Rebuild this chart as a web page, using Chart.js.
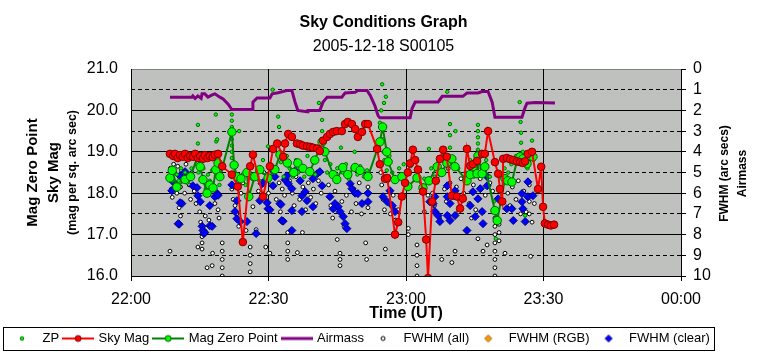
<!DOCTYPE html>
<html>
<head>
<meta charset="utf-8">
<script src="https://cdn.jsdelivr.net/npm/chart.js@4.4.1/dist/chart.umd.min.js"></script>
<style>
  html, body { margin: 0; background: #fff; }
  #wrap { width: 764px; height: 358px; position: relative; }
</style>
</head>
<body>
<div id="wrap"><canvas id="skyChart"></canvas></div>
<script>
// time axis is minutes after 22:00 UT
const timeLabels = ['22:00', '22:30', '23:00', '23:30', '00:00'];

// [minutes, mag]  (left axis)
const zpDots = [
  [8.6,18.55],[8.7,18.4],[9.0,18.3],[9.3,18.5],[9.6,18.2],[10.0,18.45],[10.4,18.3],[10.9,18.6],[11.3,18.35],[11.8,18.5],
  [12.3,18.25],[12.8,18.45],[13.2,18.6],[14.2,18.7],[14.6,19.65],[14.6,19.2],[14.7,18.5],[15.3,18.3],[15.8,18.6],[16.3,18.1],
  [16.8,18.45],[17.2,18.3],[17.7,18.55],[18.5,19.9],[18.6,19.25],[18.8,19.3],[19.0,18.5],[19.3,18.2],[19.6,18.55],
  [22.0,19.9],[22.0,19.75],[22.0,19.6],[22.0,19.45],[22.0,19.3],[22.0,19.15],[22.0,19.0],[22.0,18.85],[22.2,18.7],[22.5,18.5],
  [23.3,18.3],[23.6,19.5],[24.3,18.45],[25.0,18.2],[25.7,18.6],[26.4,18.35],[27.5,18.55],[28.0,18.3],[28.8,18.8],[29.5,18.45],
  [29.9,19.13],[30.4,18.7],[30.9,20.5],[31.3,18.5],[32.1,19.85],[32.3,19.6],[32.7,18.75],[33.3,18.4],[34.0,18.9],[34.6,18.6],
  [35.3,18.4],[36.0,18.8],[36.5,18.5],[37.2,18.65],[37.8,18.4],[38.5,18.9],[38.9,18.55],[39.7,18.75],[40.2,18.45],[41.0,20.18],
  [41.7,19.77],[41.7,19.5],[41.9,19.0],[42.3,18.8],[42.8,18.5],[43.5,18.7],[44.3,18.4],[45.0,18.6],[45.8,19.1],[46.2,18.5],
  [46.9,18.7],[47.5,18.35],[48.3,18.6],[48.8,19.0],[49.4,18.45],[50.0,18.65],[50.8,18.4],[51.5,18.55],[54.3,19.7],[54.6,20.0],
  [54.8,20.63],[55.2,20.18],[55.6,20.33],[55.0,19.3],[55.1,19.0],[55.3,18.8],[55.8,18.55],[56.4,18.9],[57.0,18.5],[58.5,18.6],
  [59.5,18.7],[60.3,18.5],[61.0,18.65],[62.0,18.4],[63.0,18.55],[64.0,18.35],[65.0,19.07],[65.5,18.6],[66.3,18.4],[67.0,18.8],
  [67.5,18.5],[68.2,18.9],[69.0,20.45],[69.6,19.67],[69.6,19.4],[69.6,19.1],[70.2,18.7],[70.8,19.5],[71.4,18.6],[75.7,19.65],
  [75.7,19.5],[75.7,19.35],[75.7,19.2],[75.7,19.05],[73.0,18.5],[74.0,18.8],[74.8,18.4],[76.5,18.6],[77.5,18.8],[78.3,18.4],
  [79.2,17.8],[79.6,16.9],[80.5,18.4],[81.5,18.6],[82.3,18.5],[83.0,18.7],[84.0,18.9],[84.8,20.2],[85.0,19.72],[85.1,19.46],
  [85.1,19.22],[85.5,19.0],[86.0,17.46],[86.5,18.6],[87.5,19.27],[87.8,18.8]
];

const skyMag = [
  [8.5,18.95],[9.2,18.9],[9.6,18.95],[10.2,18.85],[10.7,18.92],[11.3,18.88],[11.8,18.95],[12.4,18.85],[12.9,18.9],[13.5,18.88],
  [14.0,18.95],[14.6,18.85],[15.1,18.9],[15.7,18.83],[16.1,18.92],[16.7,18.85],[17.2,18.9],[17.8,18.87],[18.3,18.93],[19.0,18.95],
  [19.9,18.65],[22.0,18.45],[23.3,18.16],[24.4,16.82],[26.0,18.65],[26.6,18.93],[28.8,17.92],[30.3,18.65],[31.0,19.07],[31.9,19.2],
  [33.2,18.88],[33.6,19.2],[34.3,19.43],[35.1,19.36],[36.2,19.2],[36.9,19.18],[37.5,19.15],[38.4,19.13],[39.1,19.12],[39.7,19.1],
  [40.6,19.08],[41.2,19.02],[41.9,19.27],[42.8,19.36],[43.4,19.43],[44.1,19.48],[44.9,19.5],[46.0,19.5],[46.7,19.67],[47.3,19.72],
  [48.2,19.67],[48.9,19.55],[49.5,19.36],[50.4,19.48],[51.1,19.67],[51.7,19.67],[53.7,19.07],[54.3,18.7],[55.4,18.35],[55.9,18.37],
  [57.6,17.0],[58.3,17.3],[59.1,17.92],[59.8,18.25],[60.4,18.5],[60.9,18.72],[61.5,19.05],[62.0,18.8],[62.6,18.57],[63.7,18.04],
  [64.4,16.88],[64.8,15.95],[65.7,17.8],[66.5,18.3],[67.4,18.83],[68.1,19.05],[68.9,18.88],[70.0,17.94],[71.1,17.92],[71.8,17.63],
  [72.4,17.87],[73.3,19.07],[74.0,18.66],[74.6,18.7],[75.5,18.78],[76.6,18.95],[77.2,18.95],[77.9,19.5],[79.4,18.75],[80.1,18.47],
  [80.5,18.1],[81.0,17.8],[81.2,18.83],[82.0,18.85],[82.7,18.82],[83.4,18.8],[84.2,18.77],[84.9,18.75],[85.5,18.73],[86.0,18.77],
  [86.6,18.95],[87.5,19.0],[88.8,18.1],[89.5,18.64],[89.9,17.67],[90.3,17.27],[91.0,17.24],[91.6,17.22],[92.3,17.24]
];

const magZeroPoint = [
  [8.5,18.37],[9.0,18.55],[10.0,18.15],[11.8,18.33],[13.0,18.4],[14.5,18.88],[15.1,18.64],[15.7,18.33],[16.6,18.0],[17.2,18.2],
  [17.9,18.13],[18.5,18.57],[19.0,18.73],[19.4,18.4],[22.0,19.48],[22.5,18.68],[23.1,18.4],[24.0,18.35],[25.3,18.5],[25.7,17.92],
  [27.0,18.4],[28.1,18.57],[29.9,18.37],[31.4,18.57],[32.5,18.93],[34.1,18.73],[35.5,18.5],[36.4,18.73],[37.5,18.6],[39.0,18.52],
  [40.1,18.8],[41.7,19.24],[42.3,19.0],[44.1,18.45],[44.9,18.33],[46.2,18.62],[47.3,18.45],[48.9,18.62],[50.0,18.55],[51.7,18.4],
  [54.3,19.24],[54.9,19.6],[55.8,19.0],[56.1,18.76],[57.6,18.33],[59.1,18.4],[60.4,18.16],[62.4,18.37],[63.7,18.13],[65.0,18.3],
  [66.8,18.64],[67.8,18.5],[68.9,18.73],[70.0,18.83],[70.7,18.64],[73.3,18.3],[74.0,18.45],[74.6,18.64],[75.5,18.47],[75.7,18.9],
  [76.6,18.47],[77.2,18.64],[79.4,17.58],[79.9,17.34],[81.6,18.35],[82.2,18.3],[83.1,18.27],[84.2,18.78],[84.9,18.88],[85.5,18.83],
  [86.4,18.71],[87.7,18.88]
];

// [minutes, value]  (right axis)
const airmass = [
  [8.5,1.36],[13.3,1.36],[13.5,1.3],[14.0,1.42],[14.6,1.3],[15.3,1.42],[15.5,1.2],[16.1,1.2],[16.8,1.36],[17.7,1.25],
  [18.3,1.2],[19.4,1.36],[20.1,1.45],[21.2,1.7],[22.0,1.96],[26.4,1.96],[26.6,1.6],[27.5,1.4],[30.3,1.4],[30.8,1.2],
  [32.1,1.15],[34.0,1.04],[35.1,1.04],[35.8,1.6],[36.4,2.0],[38.4,2.06],[38.6,2.0],[41.2,2.0],[41.9,1.6],[42.8,1.36],
  [46.0,1.36],[46.7,1.16],[48.9,1.12],[49.5,1.04],[51.5,1.04],[52.2,1.28],[53.2,1.77],[53.9,2.25],[54.3,2.36],[60.9,2.36],
  [61.3,1.92],[62.0,1.6],[67.0,1.6],[67.9,1.32],[72.4,1.32],[73.3,1.16],[75.7,1.16],[76.6,1.09],[77.9,1.09],[78.8,1.6],
  [79.4,2.33],[85.3,2.33],[86.0,1.85],[86.4,1.65],[88.2,1.62],[92.5,1.64]
];

const fwhmAll = [
  [8.6,4.8],[8.7,5.3],[8.8,5.8],[9.0,6.2],[9.3,4.6],[9.5,5.0],[9.7,5.5],[10.0,6.0],[10.2,4.7],[10.5,5.2],
  [10.8,5.7],[11.0,4.9],[11.3,5.4],[11.7,6.0],[12.0,4.6],[12.3,5.1],[12.7,5.6],[13.0,6.3],[13.3,5.0],[8.5,8.8],
  [10.5,6.7],[10.8,7.1],[13.8,5.9],[14.2,6.5],[14.6,8.6],[15.0,6.9],[15.2,7.4],[15.5,8.1],[15.5,8.4],[15.5,8.7],
  [16.2,7.1],[16.6,9.6],[17.0,7.3],[17.7,9.5],[17.8,8.9],[18.3,6.5],[19.0,6.8],[19.2,7.2],[19.9,8.4],[19.9,8.8],
  [19.9,9.2],[19.9,9.6],[19.9,10.0],[22.0,5.2],[22.0,5.8],[22.3,6.3],[22.7,6.6],[23.1,7.0],[23.5,7.6],[24.0,6.0],
  [24.4,5.5],[25.1,7.8],[26.0,8.6],[26.0,9.0],[26.0,9.4],[26.0,9.8],[26.6,6.65],[27.3,7.76],[27.8,5.9],[28.5,6.2],
  [29.0,5.0],[29.4,8.6],[30.3,8.9],[30.0,6.0],[30.5,5.6],[31.2,5.1],[31.7,6.3],[32.3,5.5],[32.6,6.9],[33.0,5.8],
  [33.5,6.1],[34.2,7.9],[34.2,8.4],[34.2,8.8],[34.2,9.2],[34.6,5.4],[35.2,6.0],[35.6,6.6],[36.0,5.2],[36.3,8.87],
  [36.8,6.3],[37.4,7.9],[37.5,5.7],[38.1,6.8],[38.7,5.5],[39.2,6.2],[39.8,5.8],[40.3,6.5],[40.9,5.4],[41.5,6.0],
  [43.1,5.6],[43.6,6.6],[44.0,7.2],[44.5,5.9],[45.0,8.24],[45.6,8.9],[45.6,9.2],[45.6,9.5],[46.0,6.4],[46.5,7.6],
  [47.0,6.1],[47.6,5.2],[48.1,6.9],[48.6,5.8],[49.1,6.5],[49.8,5.5],[50.3,7.0],[51.2,8.4],[51.4,9.2],[51.7,5.7],
  [51.7,6.7],[54.5,5.0],[54.7,5.6],[55.0,6.3],[55.3,6.8],[55.5,8.7],[56.0,5.4],[56.6,7.0],[57.2,6.1],[57.7,7.3],
  [58.3,6.8],[60.5,7.7],[60.5,8.0],[62.4,8.5],[62.4,9.0],[62.4,9.5],[62.4,10.0],[64.0,6.9],[64.8,6.1],[65.4,5.4],
  [65.8,6.0],[66.2,6.6],[66.8,5.2],[67.3,7.2],[67.8,9.2],[68.4,5.8],[68.8,6.4],[69.2,4.8],[69.6,5.5],[70.0,9.35],
  [70.4,6.2],[70.7,8.8],[71.0,5.7],[71.5,6.9],[72.0,5.3],[72.6,6.0],[73.2,5.1],[73.8,6.5],[74.3,7.2],[74.7,5.6],
  [75.2,6.8],[75.7,8.2],[76.2,5.3],[76.8,8.8],[77.3,6.1],[77.7,8.5],[78.3,5.5],[78.9,5.9],[79.4,6.75],[79.4,7.2],
  [79.4,7.6],[79.4,8.0],[79.4,8.4],[79.4,8.8],[79.4,9.2],[79.4,9.6],[79.4,10.0],[80.3,7.5],[80.3,7.9],[80.3,8.3],
  [81.6,8.9],[82.2,6.0],[82.7,6.6],[83.2,5.7],[84.0,6.3],[84.5,5.4],[85.0,7.0],[85.7,5.9],[86.2,6.9],[86.4,6.2],
  [86.9,5.6],[86.9,6.4],[86.9,7.0],[87.2,9.05],[87.5,7.4],[88.0,6.5]
];

const fwhmRgb = [];

const fwhmClear = [
  [8.9,5.88],[9.2,5.45],[10.7,5.16],[11.8,4.96],[12.4,5.3],[11.1,6.5],[10.5,7.5],[10.7,6.46],[10.3,7.47],[13.5,5.64],
  [14.4,5.73],[14.6,6.12],[15.1,6.41],[15.5,7.6],[15.7,7.8],[15.9,7.95],[16.1,7.9],[17.2,6.6],[17.2,7.57],[17.7,7.6],
  [18.3,6.17],[18.8,6.02],[19.0,6.1],[22.0,5.6],[22.7,6.89],[23.1,6.36],[23.1,7.23],[23.8,7.37],[25.3,7.37],[27.3,7.95],
  [28.6,5.54],[28.8,5.49],[28.1,6.36],[29.7,6.46],[29.9,6.75],[30.3,6.8],[30.8,4.87],[31.0,4.82],[31.4,5.2],[31.0,5.64],
  [32.5,6.5],[32.7,6.55],[32.9,7.32],[33.2,7.35],[33.6,5.35],[34.0,5.16],[34.3,5.54],[35.1,5.78],[35.1,6.84],[35.1,7.8],
  [35.8,4.91],[36.9,5.4],[37.3,6.12],[37.3,6.89],[38.0,5.93],[38.4,6.36],[39.7,5.3],[39.7,6.65],[40.6,5.06],[41.2,4.96],
  [41.7,5.64],[43.4,6.17],[44.1,6.75],[44.5,6.5],[45.2,6.65],[45.6,6.89],[46.3,7.13],[46.7,7.47],[47.1,7.71],[47.8,5.54],
  [48.2,5.78],[48.9,6.0],[49.5,6.02],[50.4,6.5],[51.7,6.0],[51.7,6.41],[55.0,6.17],[55.9,6.41],[56.5,5.88],[57.0,6.6],
  [57.6,6.89],[65.2,6.41],[65.9,6.5],[66.3,6.89],[67.0,7.08],[67.4,7.37],[66.3,6.17],[69.0,5.64],[69.0,6.17],[69.0,7.08],
  [69.6,6.5],[69.6,7.32],[70.7,7.08],[70.7,5.88],[73.3,7.8],[74.0,6.6],[74.6,5.93],[75.1,7.13],[75.7,6.27],[76.2,5.78],
  [76.6,6.89],[76.8,7.47],[77.7,5.2],[77.7,5.64],[80.1,6.27],[82.0,6.75],[83.1,6.75],[83.4,7.32],[85.3,6.02],[85.3,6.41],
  [85.5,6.75],[86.0,7.37],[86.6,5.45],[86.6,6.17],[87.7,6.12]
];

const FONT = "'Liberation Sans', Arial, Helvetica, sans-serif";
Chart.defaults.font.family = FONT;
Chart.defaults.color = '#000';

const toXY = arr => arr.map(p => ({ x: p[0], y: p[1] }));

// little canvases used as legend symbols (line + marker like the original)
function icon(draw) {
  const c = document.createElement('canvas');
  c.width = 32; c.height = 14;
  draw(c.getContext('2d'));
  return c;
}
function hline(g, color, w) {
  g.beginPath(); g.moveTo(0, 7); g.lineTo(32, 7);
  g.strokeStyle = color; g.lineWidth = w; g.stroke();
}
function dot(g, r, fill, stroke) {
  g.beginPath(); g.arc(16, 7, r, 0, Math.PI * 2);
  g.fillStyle = fill; g.fill();
  g.lineWidth = 1; g.strokeStyle = stroke; g.stroke();
}
function diamond(g, r, fill, stroke) {
  g.beginPath(); g.moveTo(16, 7 - r); g.lineTo(16 + r, 7); g.lineTo(16, 7 + r); g.lineTo(16 - r, 7); g.closePath();
  g.fillStyle = fill; g.fill();
  g.lineWidth = 1; g.strokeStyle = stroke; g.stroke();
}
const legendIcons = [
  icon(g => dot(g, 1.8, '#00ff00', '#007000')),
  icon(g => { hline(g, '#ff0000', 2); dot(g, 3, '#ff0000', '#800000'); }),
  icon(g => { hline(g, '#008000', 2); dot(g, 3, '#00ff00', '#006000'); }),
  icon(g => hline(g, '#800080', 3)),
  icon(g => dot(g, 2, '#ffffff', '#000000')),
  icon(g => diamond(g, 3.5, '#ff9900', '#996600')),
  icon(g => diamond(g, 3.5, '#0000ff', '#000080'))
];

function bgPattern(ctx) {
  const c = document.createElement('canvas');
  c.width = 4; c.height = 4;
  const g = c.getContext('2d');
  g.fillStyle = '#c0c0c0'; g.fillRect(0, 0, 4, 4);
  g.fillStyle = '#aac8aa'; g.fillRect(1, 1, 1, 1);
  return ctx.createPattern(c, 'repeat');
}

const framePlugin = {
  id: 'framePlugin',
  beforeDraw(chart) {
    const { ctx, chartArea: a, width, height } = chart;
    ctx.save();
    ctx.fillStyle = '#fff';
    ctx.fillRect(0, 0, width, height);
    ctx.fillStyle = bgPattern(ctx);
    ctx.fillRect(a.left, a.top, a.right - a.left, a.bottom - a.top);
    ctx.strokeStyle = '#808080';
    ctx.lineWidth = 1;
    ctx.beginPath();
    ctx.moveTo(a.left, Math.round(a.top) + 0.5);
    ctx.lineTo(a.right, Math.round(a.top) + 0.5);
    ctx.stroke();
    ctx.restore();
  },
  afterDraw(chart) {
    const { ctx, chartArea: a } = chart;
    const cy = (a.top + a.bottom) / 2;
    ctx.save();
    ctx.fillStyle = '#000';
    ctx.textAlign = 'center';
    ctx.textBaseline = 'middle';
    // left axis title, three lines
    const left = [['Mag Zero Point', 33, 'bold 15px'], ['Sky Mag', 54, 'bold 15px'], ['(mag per sq. arc sec)', 73, 'bold 12.5px']];
    left.forEach(([t, x, f]) => {
      ctx.save(); ctx.translate(x, cy); ctx.rotate(-Math.PI / 2);
      ctx.font = f + ' ' + FONT; ctx.fillText(t, 0, 0); ctx.restore();
    });
    const right = [['FWHM (arc secs)', 725], ['Airmass', 743]];
    right.forEach(([t, x]) => {
      ctx.save(); ctx.translate(x, cy + 1); ctx.rotate(-Math.PI / 2);
      ctx.font = 'bold 12px ' + FONT; ctx.fillText(t, 0, 0); ctx.restore();
    });
    // frame round the legend
    const hb = chart.legend.legendHitBoxes;
    if (hb && hb.length) {
      const last = hb[hb.length - 1];
      const my = hb[0].top + hb[0].height / 2;
      const x0 = Math.round(hb[0].left) - 4.5;
      const x1 = Math.round(last.left + last.width) + 4.5;
      ctx.strokeStyle = '#000';
      ctx.lineWidth = 1;
      ctx.strokeRect(x0, Math.round(my - 12) + 0.5, x1 - x0, 23);
    }
    ctx.restore();
  }
};

const datasets = [
  {
    label: 'ZP', data: toXY(zpDots), yAxisID: 'y', showLine: false,
    pointStyle: 'circle', pointRadius: 1.7, pointBackgroundColor: '#00ff00', pointBorderColor: '#007000',
    pointBorderWidth: 1, order: 3
  },
  {
    label: 'Sky Mag', data: toXY(skyMag), yAxisID: 'y', showLine: true,
    borderColor: '#ff0000', borderWidth: 2, pointStyle: 'circle', pointRadius: 3.8,
    pointBackgroundColor: '#ff0000', pointBorderColor: '#800000', pointBorderWidth: 1, order: 1
  },
  {
    label: 'Mag Zero Point', data: toXY(magZeroPoint), yAxisID: 'y', showLine: true,
    borderColor: '#008000', borderWidth: 2, pointStyle: 'circle', pointRadius: 4.2,
    pointBackgroundColor: '#00ff00', pointBorderColor: '#006000', pointBorderWidth: 1, order: 2
  },
  {
    label: 'Airmass', data: toXY(airmass), yAxisID: 'y2', showLine: true,
    borderColor: '#800080', borderWidth: 3, pointRadius: 0, order: 0
  },
  {
    label: 'FWHM (all)', data: toXY(fwhmAll), yAxisID: 'y2', showLine: false,
    pointStyle: 'circle', pointRadius: 1.9, pointBackgroundColor: '#ffffff', pointBorderColor: '#000000',
    pointBorderWidth: 1, order: 6
  },
  {
    label: 'FWHM (RGB)', data: toXY(fwhmRgb), yAxisID: 'y2', showLine: false,
    pointStyle: 'rectRot', pointRadius: 4, pointBackgroundColor: '#ff9900', pointBorderColor: '#996600',
    pointBorderWidth: 1, order: 5
  },
  {
    label: 'FWHM (clear)', data: toXY(fwhmClear), yAxisID: 'y2', showLine: false,
    pointStyle: 'rectRot', pointRadius: 4, pointBackgroundColor: '#0000ff', pointBorderColor: '#000080',
    pointBorderWidth: 1, order: 4
  }
];

new Chart(document.getElementById('skyChart'), {
  type: 'scatter',
  data: { datasets: datasets },
  plugins: [framePlugin],
  options: {
    responsive: true,
    maintainAspectRatio: false,
    animation: false,
    events: [],
    layout: { padding: { top: 0.6, left: 3, right: 0, bottom: 3 } },
    plugins: {
      title: {
        display: true, text: 'Sky Conditions Graph', color: '#000',
        font: { size: 16, weight: 'bold' }, padding: { top: 12, bottom: 5 }
      },
      subtitle: {
        display: true, text: '2005-12-18 S00105', color: '#000',
        font: { size: 16 }, padding: { top: 0, bottom: 13 }
      },
      tooltip: { enabled: false },
      legend: {
        position: 'bottom', align: 'start',
        labels: {
          usePointStyle: true, pointStyleWidth: 28, padding: 5, color: '#000',
          font: { size: 13 },
          generateLabels: chart => chart.data.datasets.map((ds, i) => ({
            text: ds.label, pointStyle: legendIcons[i], datasetIndex: i,
            fillStyle: 'transparent', strokeStyle: 'transparent', lineWidth: 0, hidden: false
          }))
        }
      }
    },
    scales: {
      x: {
        type: 'linear', min: 0, max: 120,
        afterFit: s => { s.height = 51; },
        ticks: {
          stepSize: 30, padding: 9, font: { size: 16 }, color: '#000', autoSkip: false,
          callback: v => timeLabels[Math.round(v / 30)]
        },
        grid: { color: '#000', tickColor: '#000', tickLength: 5, lineWidth: 1 },
        border: { color: '#000' },
        title: { display: true, text: 'Time (UT)', font: { size: 16, weight: 'bold' }, padding: { top: 0, bottom: 4 } }
      },
      y: {
        position: 'left', min: 16, max: 21,
        afterFit: s => { s.width = 128; },
        ticks: { stepSize: 1, padding: 13, font: { size: 16 }, color: '#000', autoSkip: false, callback: v => v.toFixed(1) },
        grid: { drawTicks: false, color: c => (c.tick && c.tick.value === 21 ? 'rgba(0,0,0,0)' : '#000'), lineWidth: 1 },
        border: { color: '#000' }
      },
      y2: {
        position: 'right', min: 0, max: 10, reverse: true,
        afterFit: s => { s.width = 83; },
        ticks: { stepSize: 1, padding: 7, font: { size: 16 }, color: '#000', autoSkip: false },
        grid: {
          color: c => (c.tick && c.tick.value % 2 === 1 ? '#000' : 'rgba(0,0,0,0)'),
          tickColor: '#000', tickLength: 5, lineWidth: 1
        },
        border: { color: '#000', dash: [4, 3] }
      }
    }
  }
});
</script>
</body>
</html>
